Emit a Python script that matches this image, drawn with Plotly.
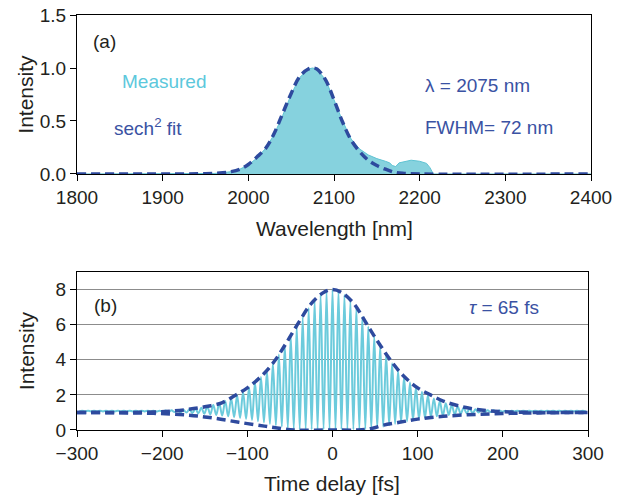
import plotly.graph_objects as go

# ---------------- Panel (a): spectrum ----------------
wl_measured = [1800, 1950, 1960, 1970, 1980, 1990, 2000, 2010, 2020, 2030, 2040, 2050,
               2060, 2070, 2075, 2080, 2090, 2100, 2110, 2120, 2130, 2140, 2150, 2160,
               2165, 2168, 2172, 2176, 2182, 2190, 2200, 2208, 2212, 2216, 2400]
int_measured = [0.0, 0.0, 0.005, 0.012, 0.022, 0.045, 0.085, 0.15, 0.24, 0.37, 0.55, 0.75,
                0.91, 0.99, 1.0, 0.99, 0.89, 0.70, 0.50, 0.33, 0.235, 0.18, 0.145, 0.12,
                0.105, 0.08, 0.07, 0.105, 0.115, 0.13, 0.12, 0.10, 0.06, 0.0, 0.0]

wl_fit = [1800, 1900, 1950, 1970, 1980, 1990, 2000, 2010, 2020, 2030, 2040, 2050, 2060,
          2070, 2075, 2080, 2090, 2100, 2110, 2120, 2130, 2140, 2150, 2160, 2170, 2180,
          2200, 2400]
int_fit = [0.0, 0.0, 0.003, 0.012, 0.022, 0.045, 0.09, 0.16, 0.24, 0.38, 0.57, 0.76, 0.92,
           0.99, 1.0, 0.99, 0.89, 0.70, 0.49, 0.32, 0.21, 0.13, 0.08, 0.045, 0.018, 0.006,
           0.0, 0.0]

wl_ticks = [1800, 1900, 2000, 2100, 2200, 2300, 2400]
int_ticks_a = [0.0, 0.5, 1.0, 1.5]

# ---------------- Panel (b): autocorrelation ----------------
fringe_period_fs = 7.0
fringe_peaks = ([1.1] * 13 +
                [1.1, 1.11, 1.12, 1.13, 1.15, 1.18, 1.22, 1.27, 1.34, 1.42, 1.52, 1.65, 1.8,
                 1.98, 2.18, 2.42, 2.7, 3.02, 3.38, 3.8, 4.3, 4.8, 5.35, 5.9, 6.45, 6.95,
                 7.38, 7.7, 7.92] +
                [8.0] +
                [7.92, 7.7, 7.38, 6.95, 6.45, 5.9, 5.35, 4.8, 4.3, 3.8, 3.38, 3.02, 2.7,
                 2.42, 2.18, 1.98, 1.8, 1.65, 1.52, 1.42, 1.34, 1.27, 1.22, 1.18, 1.15, 1.13,
                 1.12, 1.11, 1.1] +
                [1.1] * 13)
fringe_troughs = ([1.06] * 13 +
                  [1.05, 1.04, 1.03, 1.02, 1.01, 0.99, 0.97, 0.95, 0.92, 0.89, 0.86, 0.82,
                   0.78, 0.73, 0.68, 0.63, 0.57, 0.5, 0.43, 0.35, 0.27, 0.19, 0.12, 0.07,
                   0.05, 0.04, 0.03, 0.03, 0.03, 0.03] +
                  [0.03, 0.03, 0.03, 0.03, 0.04, 0.05, 0.07, 0.12, 0.19, 0.27, 0.35, 0.43,
                   0.5, 0.57, 0.63, 0.68, 0.73, 0.78, 0.82, 0.86, 0.89, 0.92, 0.95, 0.97,
                   0.99, 1.01, 1.02, 1.03, 1.04, 1.05] +
                  [1.06] * 13)

env_t = [-300, -250, -210, -190, -170, -150, -130, -115, -100, -85, -70, -55, -40, -25,
         -10, 0, 10, 25, 40, 55, 70, 85, 100, 115, 130, 150, 170, 190, 210, 250, 300]
env_upper = [1.0, 1.0, 1.02, 1.07, 1.17, 1.32, 1.55, 1.95, 2.4, 3.0, 3.8, 4.9, 6.1, 7.2,
             7.85, 8.0, 7.85, 7.2, 6.05, 4.9, 3.85, 3.0, 2.4, 2.0, 1.65, 1.35, 1.17, 1.07,
             1.02, 1.0, 1.0]
low_t = [-300, -250, -210, -170, -140, -110, -80, -60, -45, 0, 30, 45, 60, 80, 100, 130,
         170, 210, 250, 300]
env_lower = [1.0, 0.98, 0.95, 0.85, 0.68, 0.44, 0.22, 0.08, 0.0, 0.0, 0.0, 0.08, 0.28,
             0.45, 0.62, 0.78, 0.89, 0.95, 0.98, 1.0]

t_ticks = [-300, -200, -100, 0, 100, 200, 300]
int_ticks_b = [0, 2, 4, 6, 8]

# build the interleaved fringe series (troughs at half periods)
k0 = (len(fringe_peaks) - 1) // 2
t_fringe, v_fringe = [], []
for i in range(len(fringe_troughs)):
    t_fringe.append((i - k0 - 0.5) * fringe_period_fs)
    v_fringe.append(fringe_troughs[i])
    if i < len(fringe_peaks):
        t_fringe.append((i - k0) * fringe_period_fs)
        v_fringe.append(fringe_peaks[i])

DARK = "#2E4A9E"
CYAN_FILL = "#86D2DE"
CYAN_LINE = "#6CCBDC"
TXT = "#231F20"
FONT = "Liberation Sans, Arial, sans-serif"

fig = go.Figure()

fig.add_trace(go.Scatter(x=wl_measured, y=int_measured, mode="lines", fill="tozeroy",
                         fillcolor=CYAN_FILL, line=dict(color="#5FC3D3", width=1),
                         xaxis="x", yaxis="y", showlegend=False, hoverinfo="skip"))
fig.add_trace(go.Scatter(x=wl_fit, y=int_fit, mode="lines", line_shape="spline",
                         line=dict(color=DARK, width=3.5, dash="9px,5px"),
                         xaxis="x", yaxis="y", showlegend=False))

fig.add_trace(go.Scatter(x=t_fringe, y=v_fringe, mode="lines", line_shape="spline",
                         line=dict(color=CYAN_LINE, width=2),
                         xaxis="x2", yaxis="y2", showlegend=False))
fig.add_trace(go.Scatter(x=env_t, y=env_upper, mode="lines", line_shape="spline",
                         line=dict(color=DARK, width=3.5, dash="9px,5px"),
                         xaxis="x2", yaxis="y2", showlegend=False))
fig.add_trace(go.Scatter(x=low_t, y=env_lower, mode="lines", line_shape="spline",
                         line=dict(color=DARK, width=3.5, dash="9px,5px"),
                         xaxis="x2", yaxis="y2", showlegend=False))

axis_common = dict(showline=True, linecolor="black", linewidth=1, mirror=True,
                   ticks="outside", ticklen=6, tickcolor="black", tickwidth=1,
                   tickfont=dict(family=FONT, size=19, color=TXT), zeroline=False,
                   automargin=False)

title_font = dict(family=FONT, size=21, color=TXT)

fig.update_layout(
    width=644, height=498,
    margin=dict(l=77, r=53, t=15, b=68),
    paper_bgcolor="white", plot_bgcolor="white",
    font=dict(family=FONT, color=TXT),
    xaxis=dict(domain=[0, 1], anchor="y", range=[1800, 2400], tickvals=wl_ticks,
               showgrid=False, **axis_common),
    yaxis=dict(domain=[0.6169, 1], anchor="x", range=[0, 1.5], tickvals=int_ticks_a,
               tickformat=".1f", showgrid=False, **axis_common),
    xaxis2=dict(domain=[0, 0.9942], anchor="y2", range=[-300, 300], tickvals=t_ticks,
                showgrid=False, **axis_common),
    yaxis2=dict(domain=[0, 0.3807], anchor="x2", range=[0, 9], tickvals=int_ticks_b,
                showgrid=True, gridcolor="#8C8C8C", gridwidth=1, **axis_common),
)

ann_font = dict(family=FONT, size=19)
annotations = [
    dict(x=1817.5, y=1.249, xref="x", yref="y", text="(a)", font=dict(ann_font, color=TXT)),
    dict(x=1851, y=0.873, xref="x", yref="y", text="Measured", font=dict(ann_font, color="#5CC8DC")),
    dict(x=1842, y=0.44, xref="x", yref="y", text="sech<sup>2</sup> fit", font=dict(ann_font, color="#3A52A3")),
    dict(x=2205, y=0.833, xref="x", yref="y", text="λ = 2075 nm", font=dict(ann_font, color="#3A52A3")),
    dict(x=2205, y=0.435, xref="x", yref="y", text="FWHM= 72 nm", font=dict(ann_font, color="#3A52A3")),
    dict(x=-281.3, y=7.1, xref="x2", yref="y2", text="(b)", font=dict(ann_font, color=TXT)),
    dict(x=159, y=7.0, xref="x2", yref="y2", text="<i>τ</i> = 65 fs", font=dict(ann_font, color="#3A52A3")),
]
for a in annotations:
    a.update(showarrow=False, xanchor="left", yanchor="middle", borderpad=0)

# axis titles (placed as paper-referenced texts)
axis_titles = [
    dict(x=0.5, y=0.4867, text="Wavelength [nm]", textangle=0),
    dict(x=0.496, y=-0.128, text="Time delay [fs]", textangle=0),
    dict(x=-0.0992, y=0.808, text="Intensity", textangle=-90),
    dict(x=-0.0992, y=0.190, text="Intensity", textangle=-90),
]
for a in axis_titles:
    a.update(xref="paper", yref="paper", showarrow=False, xanchor="center",
             yanchor="middle", font=title_font, borderpad=0)

fig.update_layout(annotations=annotations + axis_titles)

fig.write_html("out.html")
